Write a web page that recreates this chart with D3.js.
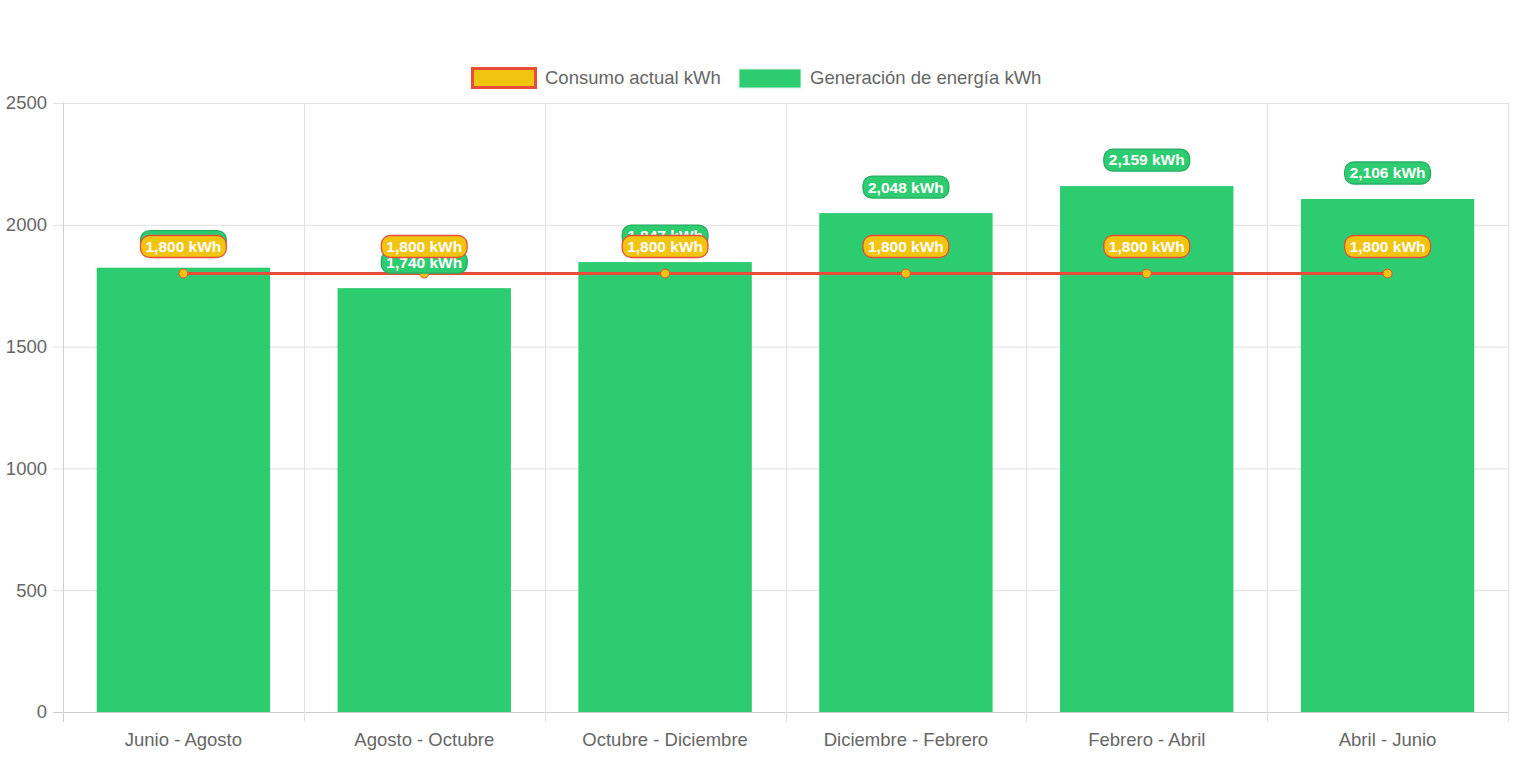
<!DOCTYPE html>
<html><head><meta charset="utf-8">
<script src="https://cdn.jsdelivr.net/npm/d3@7"></script>
<style>body{margin:0;background:#fff;} svg{display:block;font-family:"Liberation Sans",Arial,sans-serif;}</style>
</head><body>
<svg id="c" width="1517" height="757"></svg>
<script>
const categories = ["Junio - Agosto","Agosto - Octubre","Octubre - Diciembre","Diciembre - Febrero","Febrero - Abril","Abril - Junio"];
const generacion = [1824, 1740, 1847, 2048, 2159, 2106];
const consumo = [1800, 1800, 1800, 1800, 1800, 1800];
const yTicks = [0, 500, 1000, 1500, 2000, 2500];
const seriesNames = ["Consumo actual kWh", "Generación de energía kWh"];

const svg = d3.select("#c");
const L = 63, R = 1508, T = 103, B = 712;
const x = d3.scaleBand().domain(categories).range([L, R]);
const y = d3.scaleLinear().domain([0, 2500]).range([B, T]);
const fmt = d3.format(",");
const txt = "#666", grid = "#e1e1e1";
const fs = 18.5;

// grid horizontal
svg.append("g").selectAll("line").data(yTicks).join("line")
  .attr("x1", L - 10).attr("x2", R).attr("y1", d => y(d) + 0.5).attr("y2", d => y(d) + 0.5)
  .attr("stroke", d => d === 0 ? "#cfcfcf" : grid).attr("stroke-width", 1);
// grid vertical
const vx = categories.map((c, i) => L + i * x.bandwidth()).concat([R]);
svg.append("g").selectAll("line").data(vx).join("line")
  .attr("x1", d => Math.round(d) + 0.5).attr("x2", d => Math.round(d) + 0.5)
  .attr("y1", T).attr("y2", B + 10)
  .attr("stroke", (d, i) => i === 0 ? "#cfcfcf" : grid).attr("stroke-width", 1);

// y labels
svg.append("g").selectAll("text").data(yTicks).join("text")
  .attr("x", 47).attr("y", d => y(d)).attr("dy", "0.35em").attr("text-anchor", "end")
  .attr("fill", txt).attr("font-size", fs).text(d => d);
// x labels
svg.append("g").selectAll("text").data(categories).join("text")
  .attr("x", d => x(d) + x.bandwidth() / 2).attr("y", 740).attr("dy", "0.35em").attr("text-anchor", "middle")
  .attr("fill", txt).attr("font-size", fs).text(d => d);

// bars
const bw = x.bandwidth() * 0.72;
svg.append("g").selectAll("rect").data(generacion).join("rect")
  .attr("x", (d, i) => x(categories[i]) + (x.bandwidth() - bw) / 2)
  .attr("width", bw)
  .attr("y", d => y(d)).attr("height", d => B - y(d))
  .attr("fill", "#2ecc71");

// line
const cx = (i) => x(categories[i]) + x.bandwidth() / 2;
svg.append("path").datum(consumo)
  .attr("d", d3.line().x((d, i) => cx(i)).y(d => y(d)))
  .attr("fill", "none").attr("stroke", "#e74c3c").attr("stroke-width", 3);
svg.append("g").selectAll("circle").data(consumo).join("circle")
  .attr("cx", (d, i) => cx(i)).attr("cy", d => y(d)).attr("r", 4.5)
  .attr("fill", "#f1c40f").attr("stroke", "#e74c3c").attr("stroke-width", 1);

// labels
function labels(data, bg, border, off) {
  const g = svg.append("g");
  data.forEach((d, i) => {
    const lx = cx(i), ly = y(d) - off;
    const s = fmt(d) + " kWh";
    const t = g.append("text").attr("x", lx).attr("y", ly).attr("dy", "0.35em")
      .attr("text-anchor", "middle").attr("fill", "#fff").attr("font-weight", "bold")
      .attr("font-size", 15.5).text(s);
    const w = t.node().getComputedTextLength() + 10;
    g.insert("rect", () => t.node())
      .attr("x", lx - w / 2).attr("y", ly - 11).attr("width", w).attr("height", 22)
      .attr("rx", 9).attr("fill", bg).attr("stroke", border).attr("stroke-width", 1.3);
  });
}
labels(generacion, "#2ecc71", "#27ae60", 26);
labels(consumo, "#f1c40f", "#e74c3c", 27);

// legend
const lg = svg.append("g");
lg.append("rect").attr("x", 472.5).attr("y", 68.5).attr("width", 63).attr("height", 19)
  .attr("fill", "#f1c40f").attr("stroke", "#e74c3c").attr("stroke-width", 3);
lg.append("text").attr("x", 545).attr("y", 78).attr("dy", "0.35em").attr("fill", txt).attr("font-size", fs).text(seriesNames[0]);
lg.append("rect").attr("x", 739).attr("y", 69).attr("width", 62).attr("height", 19)
  .attr("fill", "#2ecc71").attr("stroke", "#e0f0e6").attr("stroke-width", 1);
lg.append("text").attr("x", 810).attr("y", 78).attr("dy", "0.35em").attr("fill", txt).attr("font-size", fs).text(seriesNames[1]);
</script>
</body></html>
